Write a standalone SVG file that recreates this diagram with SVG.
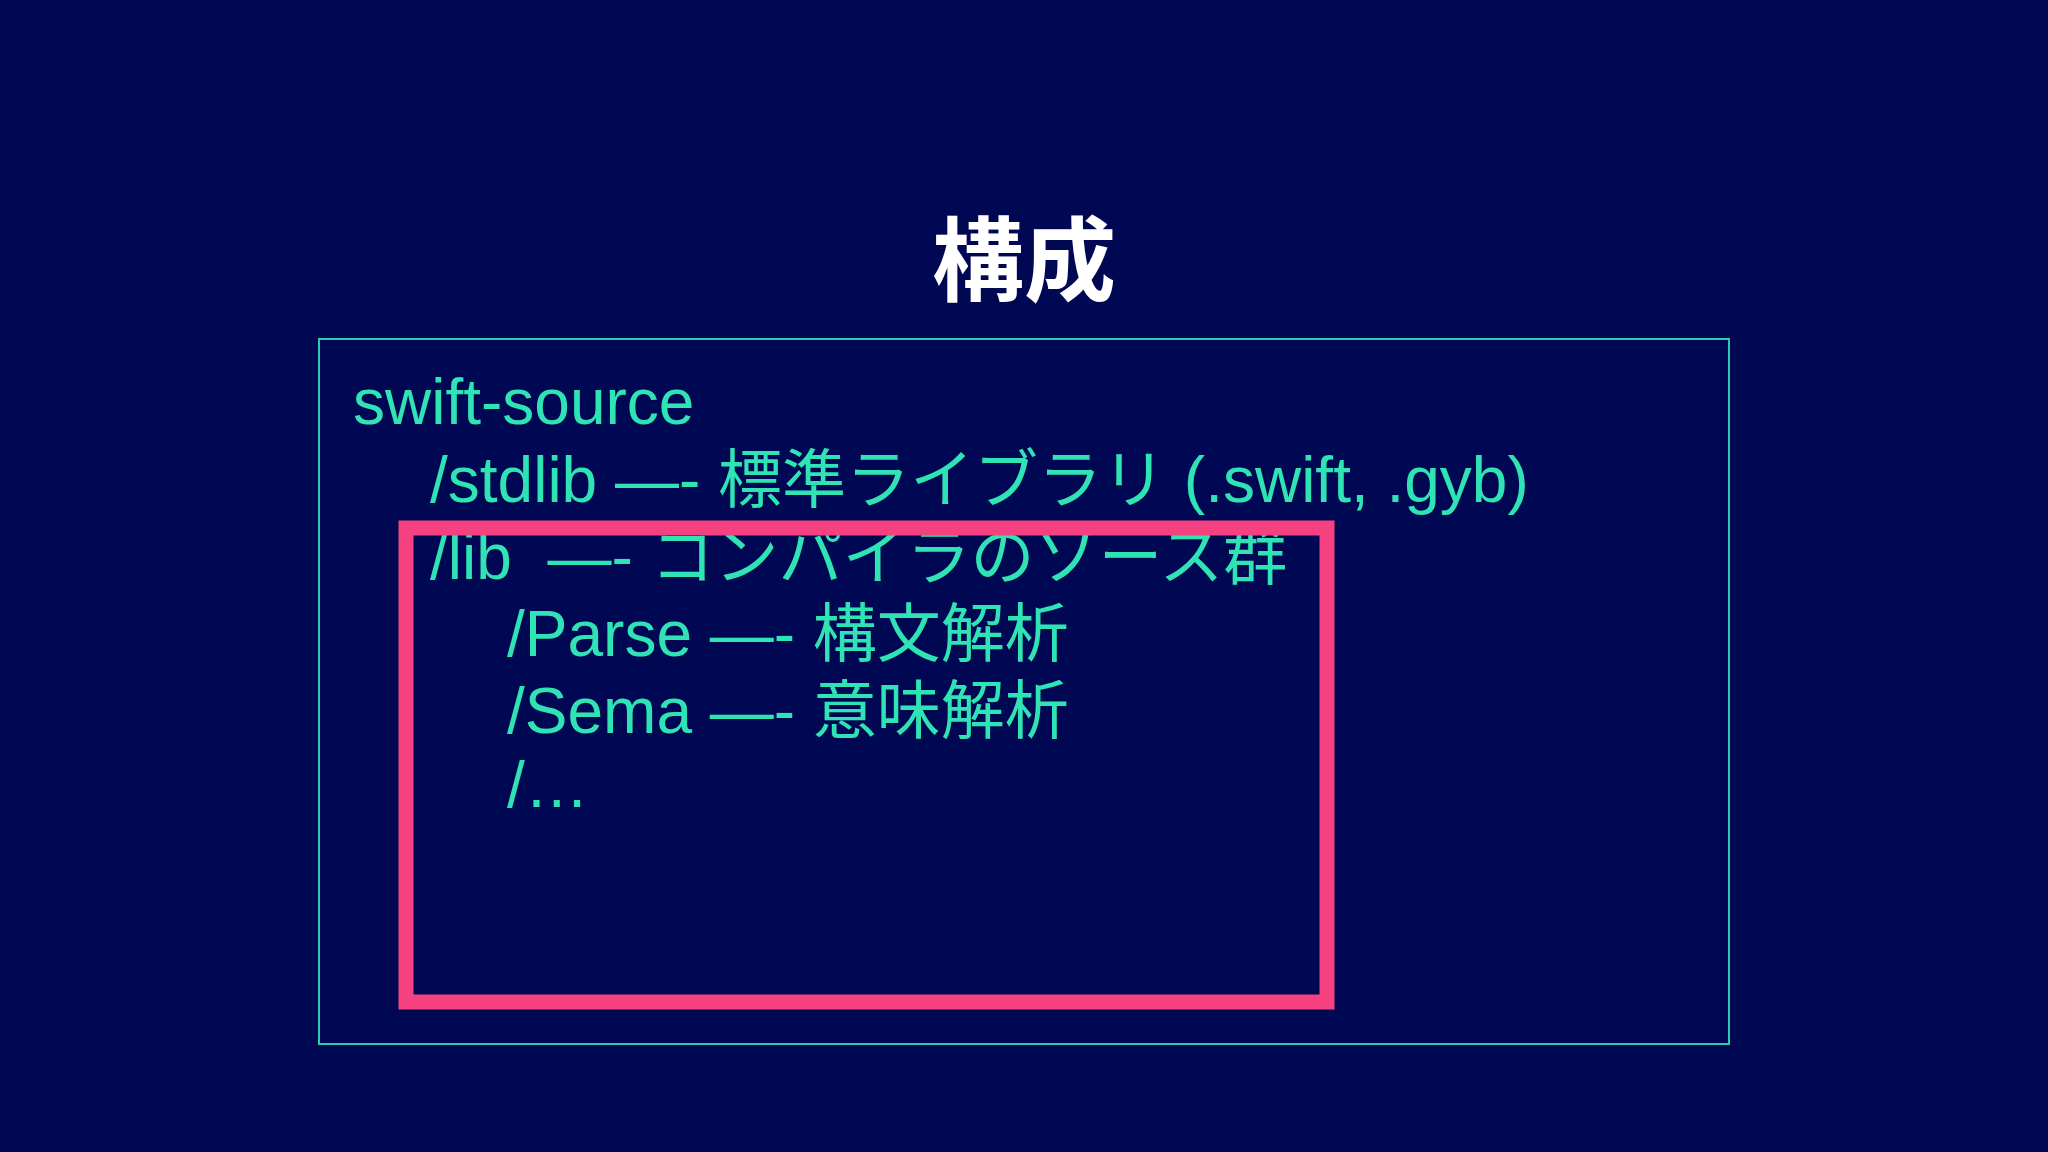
<svg xmlns="http://www.w3.org/2000/svg" width="2048" height="1152" viewBox="0 0 2048 1152">
<style>
.t{font-family:"Liberation Sans","Noto Sans CJK JP",sans-serif;font-size:64px;fill:#2fe3b4;white-space:pre}
.h{font-family:"Liberation Sans","Noto Sans CJK JP",sans-serif;font-size:92px;font-weight:bold;fill:#ffffff}
</style>
<rect width="2048" height="1152" fill="#010853"/>
<g id="title"><text class="h" x="1024" y="294" text-anchor="middle">構成</text></g>
<g id="frame"><rect x="319" y="339" width="1410" height="705" fill="none" stroke="#2fc8b4" stroke-width="2"/></g>
<g id="tree">
<text class="t" x="353" y="424">swift-source</text>
<text class="t" x="430" y="502">/stdlib —- 標準ライブラリ (.swift, .gyb)</text>
<text class="t" x="430" y="579" xml:space="preserve">/lib  —- コンパイラのソース群</text>
<text class="t" x="507" y="656">/Parse —- 構文解析</text>
<text class="t" x="507" y="733">/Sema —- 意味解析</text>
<text class="t" x="507" y="807">/…</text>
</g>
<g id="highlight"><rect x="406" y="528" width="921" height="474" fill="none" stroke="#f5417f" stroke-width="15"/></g>
</svg>
